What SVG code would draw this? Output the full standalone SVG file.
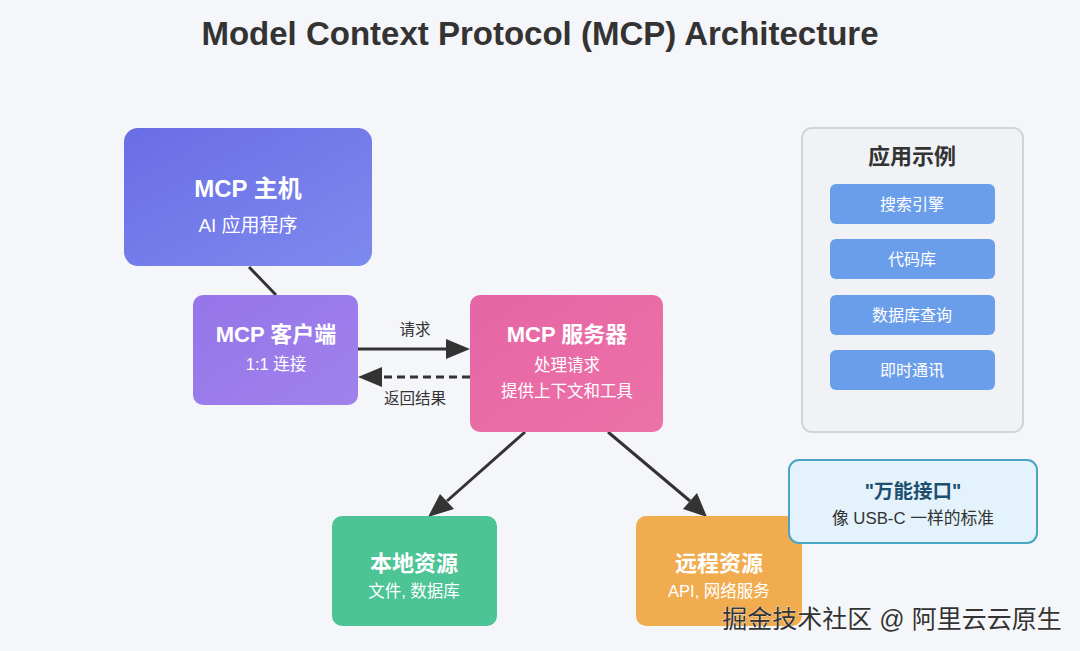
<svg xmlns="http://www.w3.org/2000/svg" width="1080" height="651" viewBox="0 0 1080 651">
<style>
text{font-family:"Liberation Sans","Noto Sans CJK SC",sans-serif;text-anchor:middle}
.t{font-weight:bold;fill:#fff;font-size:22px}
.s{fill:#fff;font-size:16.5px}
.lbl{fill:#333;font-size:15.5px}
.item{fill:#fff;font-size:16px}
.conn{stroke:#333;stroke-width:3;fill:none}
</style>
<defs>
<linearGradient id="gHost" x1="0" y1="0" x2="1" y2="1"><stop offset="0" stop-color="#6a6de6"/><stop offset="1" stop-color="#7d8aee"/></linearGradient>
<linearGradient id="gClient" x1="0" y1="0" x2="1" y2="1"><stop offset="0" stop-color="#9575e8"/><stop offset="1" stop-color="#a082ec"/></linearGradient>
<linearGradient id="gServer" x1="0" y1="0" x2="1" y2="1"><stop offset="0" stop-color="#e665a6"/><stop offset="1" stop-color="#ec72a6"/></linearGradient>
</defs>
<rect width="1080" height="651" fill="#f5f6fa"/>
<text x="540" y="45" font-size="33" font-weight="bold" fill="#333">Model Context Protocol (MCP) Architecture</text>

<g id="connectors">
<line class="conn" x1="249" y1="267" x2="276" y2="295"/>
<line class="conn" x1="358" y1="349" x2="448" y2="349"/>
<path d="M470,349 L446,339 L446,359 z" fill="#333"/>
<line class="conn" x1="470" y1="377" x2="382" y2="377" stroke-dasharray="8,5"/>
<path d="M358,377 L382,367 L382,387 z" fill="#333"/>
<text class="lbl" x="415" y="335">请求</text>
<text class="lbl" x="415" y="404">返回结果</text>
<line class="conn" x1="525" y1="432" x2="447" y2="501"/>
<path d="M428,517 L440,494 L454,509 z" fill="#333"/>
<line class="conn" x1="608" y1="432" x2="690" y2="501"/>
<path d="M707,517 L683,509 L697,493 z" fill="#333"/>
</g>

<g id="host">
<rect x="124" y="128" width="248" height="138" rx="14" fill="url(#gHost)"/>
<text class="t" x="248" y="197" style="font-size:24px">MCP 主机</text>
<text class="s" x="248" y="232" style="font-size:19px">AI 应用程序</text>
</g>

<g id="client">
<rect x="193" y="295" width="165" height="110" rx="10" fill="url(#gClient)"/>
<text class="t" x="276" y="342">MCP 客户端</text>
<text class="s" x="276" y="370">1:1 连接</text>
</g>

<g id="server">
<rect x="470" y="295" width="193" height="137" rx="10" fill="url(#gServer)"/>
<text class="t" x="567" y="342">MCP 服务器</text>
<text class="s" x="567" y="371">处理请求</text>
<text class="s" x="567" y="397">提供上下文和工具</text>
</g>

<g id="local">
<rect x="332" y="516" width="165" height="110" rx="10" fill="#4cc495"/>
<text class="t" x="414" y="571">本地资源</text>
<text class="s" x="414" y="597">文件, 数据库</text>
</g>

<g id="remote">
<rect x="636" y="516" width="166" height="110" rx="10" fill="#f1ac4f"/>
<text class="t" x="719" y="571">远程资源</text>
<text class="s" x="719" y="597">API, 网络服务</text>
</g>

<g id="examples">
<rect x="802" y="128" width="221" height="304" rx="10" fill="#f0f2f5" stroke="#d2d4d8" stroke-width="2"/>
<text x="912" y="164" font-size="22" font-weight="bold" fill="#333">应用示例</text>
<rect x="830" y="184" width="165" height="40" rx="6" fill="#6a9eea"/>
<text class="item" x="912" y="210">搜索引擎</text>
<rect x="830" y="239" width="165" height="40" rx="6" fill="#6a9eea"/>
<text class="item" x="912" y="265">代码库</text>
<rect x="830" y="295" width="165" height="40" rx="6" fill="#6a9eea"/>
<text class="item" x="912" y="321">数据库查询</text>
<rect x="830" y="350" width="165" height="40" rx="6" fill="#6a9eea"/>
<text class="item" x="912" y="376">即时通讯</text>
</g>

<g id="callout">
<rect x="789" y="460" width="248" height="83" rx="10" fill="#e3f2fb" stroke="#4aa5c2" stroke-width="2"/>
<text x="913" y="498" font-size="19.5" font-weight="bold" fill="#1d4e6e">"万能接口"</text>
<text x="913" y="524" font-size="16.8" fill="#333">像 USB-C 一样的标准</text>
</g>

<text x="892" y="628" font-size="25" fill="#333" stroke="#fff" stroke-width="0.6" paint-order="stroke">掘金技术社区 @ 阿里云云原生</text>
</svg>
